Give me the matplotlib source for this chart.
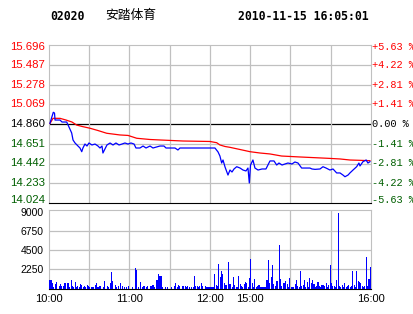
import numpy as np
import matplotlib
matplotlib.use("Agg")
import matplotlib.pyplot as plt
from matplotlib.transforms import offset_copy

# header
code = "02020"
name = "安踏体育"
stamp = "2010-11-15 16:05:01"

prev_close = 14.860
price_ticks = [15.696, 15.487, 15.278, 15.069, 14.860, 14.651, 14.442, 14.233, 14.024]
pct_labels = ["+5.63 %", "+4.22 %", "+2.81 %", "+1.41 %", "0.00 %",
              "-1.41 %", "-2.81 %", "-4.22 %", "-5.63 %"]
vol_ticks = [2250, 4500, 6750, 9000]
time_pos = [0, 60, 120, 150, 240]
time_labels = ["10:00", "11:00", "12:00", "15:00", "16:00"]

# minutes from open (morning 10:00-12:00, afternoon 14:30-16:00 -> 0..240)
price_min = [0.7, 3.2, 4.1, 4.5, 8.2, 9.7, 13.2, 14.9, 16.9, 17.9, 19.4, 21.6, 23.1,
             24.4, 25.3, 26.8, 28.3, 29.8, 32.0, 34.3, 36.5, 38.0, 39.5, 40.2, 41.7,
             43.2, 45.5, 47.7, 49.9, 52.2, 54.4, 56.6, 58.9, 61.1, 63.4, 64.8, 67.8,
             70.1, 72.3, 75.3, 77.5, 82.7, 85.7, 87.2, 93.9, 96.1, 97.6, 105.1, 112.5,
             116.3, 120.0, 123.7, 126.0, 127.4, 128.7, 129.7, 131.2, 133.4, 134.9,
             136.4, 137.9, 139.9, 142.4, 144.6, 146.8, 148.3, 149.3, 150.2, 152.0,
             153.5, 155.8, 158.8, 161.7, 164.7, 167.7, 169.7, 171.4, 173.7, 175.9,
             178.1, 181.1, 183.3, 185.6, 188.3, 191.5, 194.5, 196.0, 198.3, 202.0,
             204.2, 206.5, 209.4, 211.7, 214.4, 216.9, 219.1, 220.6, 222.9, 224.3,
             226.6, 229.3, 231.0, 231.8, 234.0, 236.4, 237.7, 239.2]
price = [14.867, 14.984, 14.976, 14.902, 14.902, 14.881, 14.881, 14.828, 14.765,
         14.691, 14.659, 14.627, 14.606, 14.567, 14.606, 14.648, 14.627, 14.659,
         14.638, 14.648, 14.627, 14.606, 14.627, 14.553, 14.596, 14.638, 14.659,
         14.638, 14.659, 14.638, 14.648, 14.659, 14.648, 14.659, 14.648, 14.606,
         14.606, 14.627, 14.606, 14.627, 14.606, 14.627, 14.627, 14.606, 14.606,
         14.585, 14.606, 14.606, 14.606, 14.606, 14.606, 14.606, 14.564, 14.521,
         14.447, 14.479, 14.405, 14.320, 14.373, 14.352, 14.384, 14.408, 14.394,
         14.373, 14.363, 14.394, 14.236, 14.426, 14.479, 14.394, 14.373, 14.384,
         14.384, 14.469, 14.469, 14.426, 14.447, 14.426, 14.437, 14.447, 14.437,
         14.458, 14.447, 14.394, 14.394, 14.394, 14.384, 14.380, 14.384, 14.408,
         14.394, 14.373, 14.384, 14.342, 14.342, 14.320, 14.302, 14.320, 14.342,
         14.373, 14.408, 14.447, 14.416, 14.461, 14.479, 14.447, 14.461]

avg_min = [0.7, 3.0, 8.2, 12.7, 17.1, 20.6, 24.6, 30.6, 36.5, 43.0, 52.9, 58.9, 65.4,
           75.3, 82.7, 99.9, 120.0, 125.0, 127.4, 131.2, 134.9, 142.4, 149.8, 157.3,
           164.7, 173.4, 187.1, 207.9, 216.9, 224.3, 239.2]
avg_price = [14.865, 14.920, 14.920, 14.902, 14.881, 14.849, 14.834, 14.815, 14.791,
             14.762, 14.744, 14.739, 14.709, 14.696, 14.691, 14.680, 14.675, 14.662,
             14.638, 14.622, 14.613, 14.590, 14.567, 14.553, 14.543, 14.521, 14.511,
             14.497, 14.490, 14.479, 14.472]

volume = [950, 950, 700, 150, 500, 800, 0, 300, 500, 300,
          300, 600, 600, 600, 600, 150, 1000, 300, 200, 800,
          150, 300, 150, 500, 450, 150, 350, 200, 400, 300,
          150, 200, 200, 150, 400, 600, 150, 300, 300, 0,
          150, 900, 0, 300, 150, 700, 1950, 900, 0, 400,
          150, 250, 0, 700, 300, 0, 200, 200, 0, 300,
          0, 0, 200, 0, 2350, 2150, 150, 0, 800, 150,
          300, 300, 150, 250, 0, 250, 300, 400, 150, 0,
          1000, 1750, 1500, 1500, 200, 0, 200, 0, 200, 0,
          0, 200, 0, 300, 650, 150, 450, 250, 0, 300,
          350, 250, 150, 300, 150, 0, 150, 200, 1520, 300,
          350, 150, 300, 700, 300, 0, 300, 200, 150, 150,
          150, 150, 150, 1750, 450, 350, 2900, 1400, 2000, 1700,
          700, 400, 400, 3100, 500, 500, 150, 1300, 400, 150,
          200, 1500, 500, 300, 150, 500, 800, 700, 150, 1200,
          3500, 600, 200, 1100, 150, 300, 400, 200, 150, 150,
          200, 150, 1000, 3300, 700, 1300, 2800, 500, 300, 900,
          900, 5100, 1100, 300, 700, 700, 900, 500, 150, 1200,
          150, 200, 150, 500, 1050, 300, 150, 2070, 300, 400,
          1050, 150, 800, 150, 1200, 650, 1000, 500, 150, 300,
          800, 300, 150, 400, 400, 300, 650, 150, 400, 2730,
          650, 300, 300, 150, 1000, 8900, 300, 150, 400, 200,
          600, 150, 300, 400, 150, 300, 2030, 400, 150, 2070,
          900, 800, 600, 300, 150, 300, 3700, 300, 1100, 2530]

RED = "#ff0000"
GREEN = "#005f00"
GRID = "#c0c0c0"

W, H = 414, 314
fig = plt.figure(figsize=(W / 100, H / 100), dpi=100)
fig.patch.set_facecolor("white")

def box(left, top, right, bottom):
    return [left / W, 1 - bottom / H, (right - left) / W, (bottom - top) / H]

def level_color(t):
    if t > prev_close:
        return RED
    if t == prev_close:
        return "black"
    return GREEN

# header text
fig.text(50 / W, 1 - 16 / H, code, family="DejaVu Sans Mono", weight="bold",
         fontsize=8.3, va="center", ha="left")
fig.text(105 / W, 1 - 16 / H, name, family=["Noto Sans CJK SC", "DejaVu Sans"],
         fontsize=9.2, va="center", ha="left")
fig.text(238 / W, 1 - 16 / H, stamp, family="DejaVu Sans Mono", weight="bold",
         fontsize=8.3, va="center", ha="left")

# price panel
ax = fig.add_axes(box(49, 45, 371, 203))
ax.set_xlim(0, 240)
ax.set_ylim(price_ticks[-1], price_ticks[0])
for t in price_ticks[1:-1]:
    ax.axhline(t, color="black" if t == prev_close else GRID, lw=0.9, zorder=1)
for t in range(30, 240, 30):
    ax.axvline(t, color=GRID, lw=0.9, zorder=1)
ax.plot(avg_min, avg_price, color=RED, lw=0.9, zorder=3)
ax.plot(price_min, price, color="#0000ff", lw=0.9, zorder=4)
for s in ["top", "left", "right"]:
    ax.spines[s].set_color(GRID)
ax.spines["bottom"].set_color("black")
ax.set_xticks([])
ax.set_yticks([])

# axis labels drawn as text so the end ones can sit inside the panel
ytr = ax.get_yaxis_transform()
for i, (t, pl) in enumerate(zip(price_ticks, pct_labels)):
    nudge = -2 if i == 0 else (3 if i == len(price_ticks) - 1 else 0)
    tr_l = offset_copy(ytr, fig=fig, x=-4, y=nudge, units="dots")
    tr_r = offset_copy(ytr, fig=fig, x=1, y=nudge, units="dots")
    ax.text(0, t, "%.3f" % t, transform=tr_l, ha="right", va="center",
            family="Liberation Sans", fontsize=8.2, color=level_color(t))
    ax.text(1, t, pl, transform=tr_r, ha="left", va="center",
            family="Liberation Mono", fontsize=7.4, color=level_color(t))

# volume panel
vx = fig.add_axes(box(49, 210, 371, 288.5))
vx.set_xlim(0, 240)
vx.set_ylim(0, 9200)
for t in vol_ticks[:-1]:
    vx.axhline(t, color=GRID, lw=0.9, zorder=1)
for t in range(30, 240, 30):
    vx.axvline(t, color=GRID, lw=0.9, zorder=1)
vx.bar(np.arange(len(volume)) + 0.5, volume, width=0.8, color="#0000ff",
       linewidth=0, zorder=3, antialiased=False)
for s in ["top", "left", "right"]:
    vx.spines[s].set_color(GRID)
vx.spines["bottom"].set_color("black")
vx.set_yticks(vol_ticks)
vx.set_yticklabels([str(v) for v in vol_ticks], family="Liberation Sans", fontsize=7.5)
vx.set_xticks(time_pos)
vx.set_xticklabels(time_labels, family="Liberation Sans", fontsize=8)
vx.tick_params(length=0)
vx.tick_params(axis="y", pad=4)
vx.tick_params(axis="x", pad=4)

fig.savefig("out.png", dpi=100)
